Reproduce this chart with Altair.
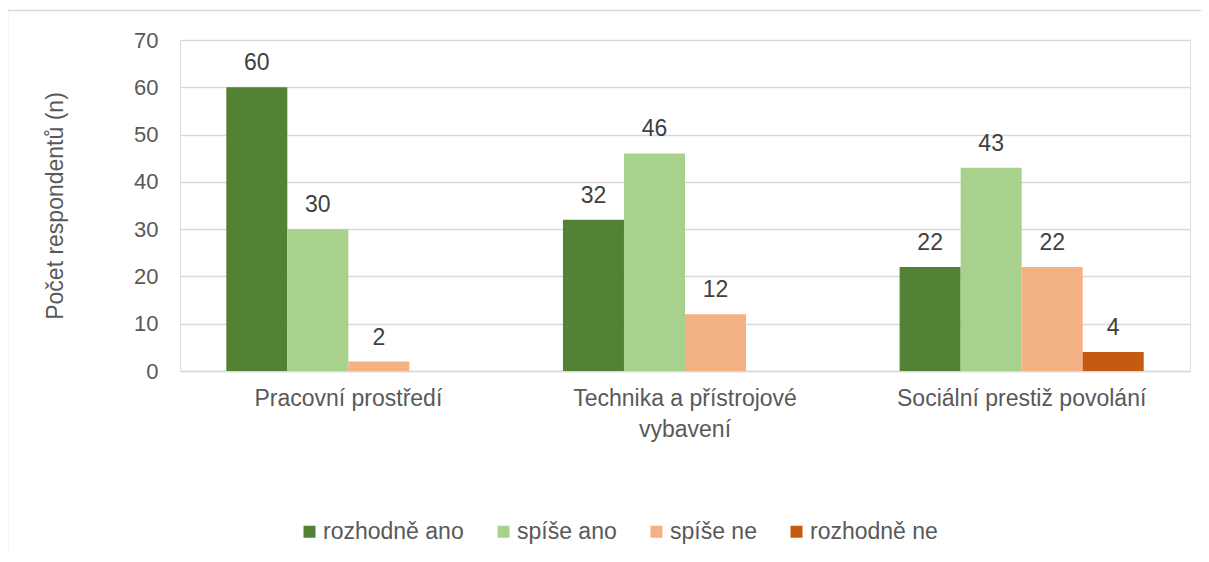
import altair as alt
import pandas as pd

categories = ["Pracovní prostředí", "Technika a přístrojové vybavení", "Sociální prestiž povolání"]
series = ["rozhodně ano", "spíše ano", "spíše ne", "rozhodně ne"]
colors = ["#548235", "#A9D18E", "#F4B183", "#C55A11"]

rozhodne_ano = [60, 32, 22]
spise_ano = [30, 46, 43]
spise_ne = [2, 12, 22]
rozhodne_ne = [None, None, 4]

y_ticks = [0, 10, 20, 30, 40, 50, 60, 70]

rows = []
for s, vals in zip(series, [rozhodne_ano, spise_ano, spise_ne, rozhodne_ne]):
    for c, v in zip(categories, vals):
        if v is not None:
            rows.append({"kategorie": c, "odpověď": s, "počet": v})
df = pd.DataFrame(rows)

FONT = "Liberation Sans"
GRAY = "#595959"
GRID = "#D9D9D9"

label_expr = ("datum.label == 'Technika a přístrojové vybavení' ? "
              "['Technika a přístrojové', 'vybavení'] : datum.label")

base = alt.Chart(df).encode(
    x=alt.X("kategorie:N", sort=categories,
            scale=alt.Scale(domain=categories, paddingInner=0.275, paddingOuter=0.1375),
            axis=alt.Axis(title=None, labelAngle=0, ticks=False, domainColor=GRID,
                          domainWidth=1.5, labelFontSize=23, labelColor=GRAY,
                          labelFont=FONT, labelPadding=16, labelLimit=0,
                          labelLineHeight=31, labelExpr=label_expr)),
    xOffset=alt.XOffset("odpověď:N", sort=series,
                        scale=alt.Scale(domain=series, paddingInner=0, paddingOuter=0)),
    y=alt.Y("počet:Q",
            scale=alt.Scale(domain=[0, 70], nice=False),
            axis=alt.Axis(title="Počet respondentů (n)", values=y_ticks, grid=True,
                          gridColor=GRID, gridWidth=1.5, domain=False, ticks=False,
                          labelFontSize=22, labelColor=GRAY, labelFont=FONT,
                          labelPadding=22, titleFontSize=23, titleFont=FONT,
                          titleColor=GRAY, titleFontWeight="normal", titlePadding=66)),
)

bars = base.mark_bar().encode(
    color=alt.Color("odpověď:N", sort=series,
                    scale=alt.Scale(domain=series, range=colors),
                    legend=alt.Legend(title=None, orient="none", direction="horizontal",
                                      legendX=118, legendY=480, symbolType="square",
                                      symbolSize=144, symbolStrokeWidth=0,
                                      labelFontSize=23, labelFont=FONT, labelColor=GRAY,
                                      labelOffset=2, columnPadding=28, padding=0,
                                      columns=4, labelLimit=0))
)

labels = base.mark_text(baseline="alphabetic", dy=-17, fontSize=23, font=FONT,
                        color="#404040").encode(text=alt.Text("počet:Q"))

frame = alt.Chart(pd.DataFrame({"ramec": [0]})).mark_rect(
    fill=None, stroke=GRID, strokeWidth=1.5
).encode(x=alt.value(-172.5), x2=alt.value(1045), y=alt.value(-29.5), y2=alt.value(580))

chart = alt.layer(frame, bars, labels).properties(
    width=1010, height=331,
    autosize=alt.AutoSizeParams(type="none"),
    padding={"left": 172, "top": 32, "right": 11, "bottom": 183},
).configure_view(stroke=None).configure(background="white")

chart.save("out.html", embed_options={"renderer": "svg", "actions": False})
